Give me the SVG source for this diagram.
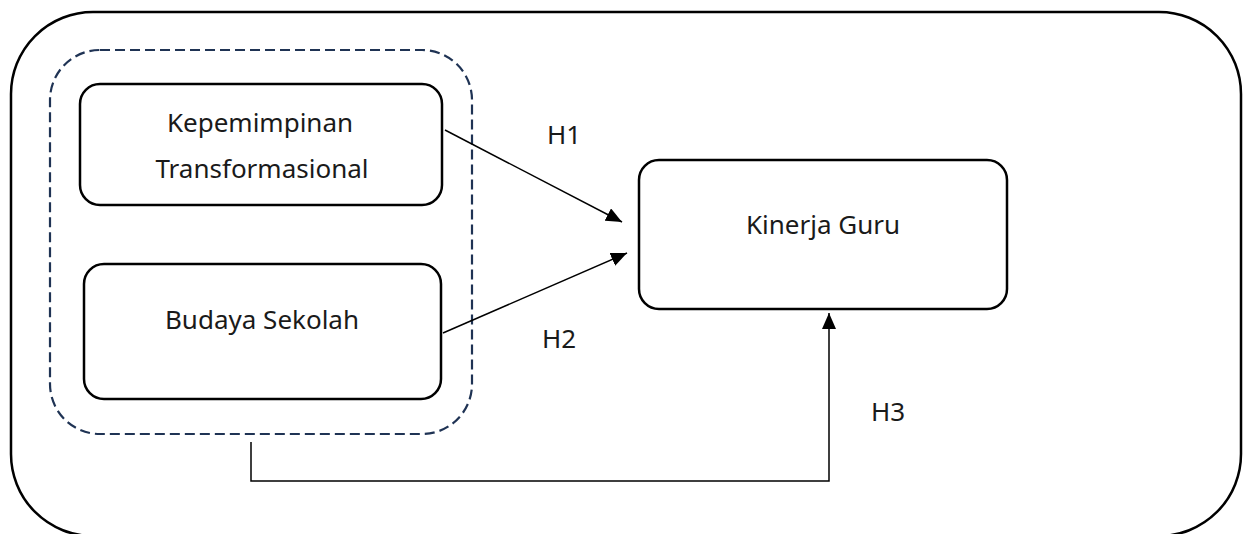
<svg xmlns="http://www.w3.org/2000/svg" width="1243" height="534" viewBox="0 0 1243 534">
<style>
.box{fill:#fff;stroke:#000;stroke-width:2.5}
.lbl{font-family:"Noto Sans","Open Sans",sans-serif;font-size:26px;fill:#1a1a1a;text-anchor:middle}
.h{font-family:"Noto Sans","Open Sans",sans-serif;font-size:26px;fill:#1a1a1a}
.conn{fill:none;stroke:#000;stroke-width:1.5}
</style>
<defs>
<marker id="arr" viewBox="0 0 16 14" refX="16" refY="7" markerWidth="16" markerHeight="14" markerUnits="userSpaceOnUse" orient="auto">
<path d="M0,0 L16,7 L0,14 Z" fill="#000"/>
</marker>
</defs>
<g id="frame"><rect x="11" y="12" width="1230" height="524" rx="82" fill="#fff" stroke="#000" stroke-width="2.5"/></g>
<g id="group"><rect x="50" y="50" width="422" height="384" rx="50" fill="none" stroke="#1f3354" stroke-width="2.2" stroke-dasharray="10,5"/></g>
<g id="node-kt"><rect class="box" x="80" y="84" width="362" height="121" rx="20"/><text class="lbl" x="260" y="132">Kepemimpinan</text><text class="lbl" x="262" y="178">Transformasional</text></g>
<g id="node-bs"><rect class="box" x="84" y="264" width="357" height="135" rx="20"/><text class="lbl" x="262" y="329">Budaya Sekolah</text></g>
<g id="node-kg"><rect class="box" x="639" y="160" width="368" height="149" rx="20"/><text class="lbl" x="823" y="234">Kinerja Guru</text></g>
<g id="connectors">
<line class="conn" x1="445" y1="130" x2="622" y2="222" marker-end="url(#arr)"/>
<line class="conn" x1="443" y1="333" x2="627" y2="253" marker-end="url(#arr)"/>
<polyline class="conn" points="251,442 251,481 829,481 829,313" marker-end="url(#arr)"/>
</g>
<g id="labels">
<text class="h" x="547" y="144">H1</text>
<text class="h" x="542" y="348">H2</text>
<text class="h" x="871" y="421">H3</text>
</g>
</svg>
